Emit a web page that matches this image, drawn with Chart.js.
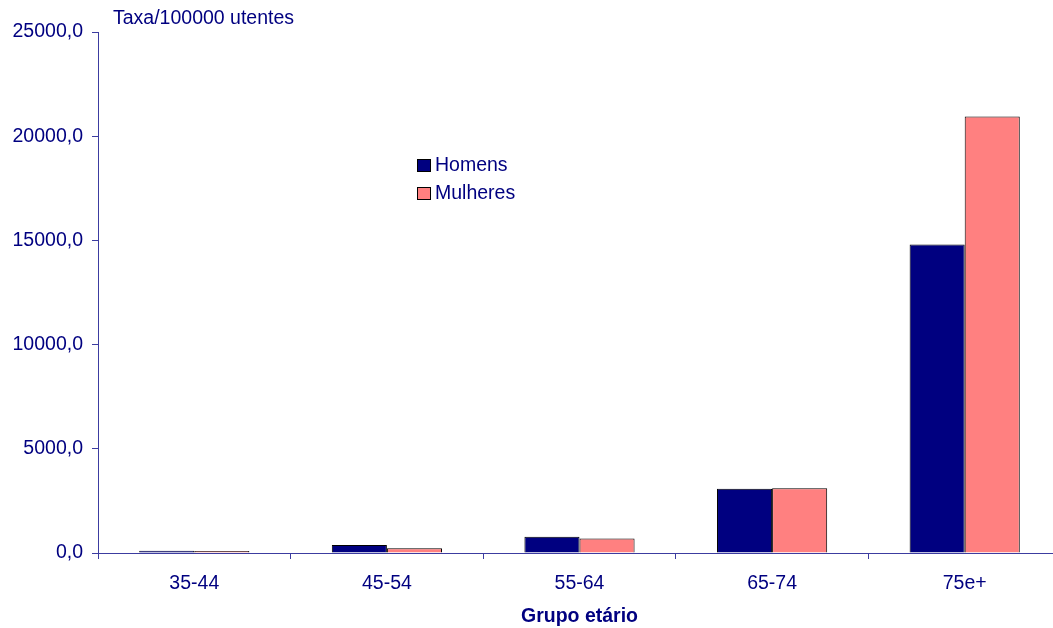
<!DOCTYPE html>
<html>
<head>
<meta charset="utf-8">
<script src="https://cdn.jsdelivr.net/npm/chart.js@4/dist/chart.umd.min.js"></script>
<style>
  html, body { margin: 0; padding: 0; background: #ffffff; overflow: hidden; }
  #wrap { width: 1061px; height: 628px; }
</style>
</head>
<body>
<div id="wrap"><canvas id="c" width="1061" height="628"></canvas></div>
<script>
// Age groups and rates per 100000 users
const categories = ['35-44', '45-54', '55-64', '65-74', '75e+'];
const homens = [110, 380, 780, 3080, 14800];
const mulheres = [100, 225, 700, 3110, 20950];
const seriesNames = ['Homens', 'Mulheres'];
const yTicks = [0, 5000, 10000, 15000, 20000, 25000];

const NAVY = '#000080';
const PINK = '#FF8080';
const AXIS = '#3c3ca0';
const FONT = 'Liberation Sans, Arial, sans-serif';
const FS = 19.5;

const fmt = v => v.toFixed(1).replace('.', ',');

// Unit caption and legend drawn at fixed spots over the plot
const overlay = {
  id: 'overlay',
  afterDraw(chart) {
    const ctx = chart.ctx;
    ctx.save();
    ctx.fillStyle = NAVY;
    ctx.font = FS + 'px ' + FONT;
    ctx.textBaseline = 'middle';
    ctx.textAlign = 'left';
    ctx.fillText('Taxa/100000 utentes', 113, 19);

    const colors = [NAVY, PINK];
    chart.data.datasets.forEach((ds, i) => {
      const y = 159 + i * 28;
      ctx.fillStyle = colors[i];
      ctx.fillRect(417, y, 14, 13);
      ctx.strokeStyle = '#000000';
      ctx.lineWidth = 1;
      ctx.strokeRect(417.5, y + 0.5, 13, 12);
      ctx.fillStyle = NAVY;
      ctx.fillText(ds.label, 435, y + 7);
    });
    ctx.restore();
  }
};

new Chart(document.getElementById('c'), {
  type: 'bar',
  data: {
    labels: categories,
    datasets: [
      { label: seriesNames[0], data: homens, backgroundColor: NAVY, borderColor: '#000000', borderWidth: 1 },
      { label: seriesNames[1], data: mulheres, backgroundColor: PINK, borderColor: '#000000', borderWidth: 1 }
    ]
  },
  options: {
    responsive: false,
    animation: false,
    layout: { padding: { top: 32, right: 0, left: 0, bottom: 0 } },
    datasets: { bar: { categoryPercentage: 0.572, barPercentage: 1.0 } },
    plugins: { legend: { display: false }, tooltip: { enabled: false } },
    scales: {
      x: {
        grid: { display: true, drawOnChartArea: false, drawTicks: true, tickLength: 6, color: AXIS, offset: true },
        border: { display: true, color: AXIS, width: 1 },
        ticks: { color: NAVY, font: { family: FONT, size: FS }, padding: 13, maxRotation: 0 },
        title: { display: true, text: 'Grupo etário', color: NAVY, font: { family: FONT, size: FS, weight: 'bold' }, padding: { top: 14, bottom: 0 } },
        afterFit(axis) { axis.height = 75; }
      },
      y: {
        min: 0,
        max: 25000,
        afterBuildTicks(axis) { axis.ticks = yTicks.map(v => ({ value: v })); },
        grid: { display: true, drawOnChartArea: false, drawTicks: true, tickLength: 6, color: AXIS },
        border: { display: true, color: AXIS, width: 1 },
        ticks: { color: NAVY, font: { family: FONT, size: FS }, padding: 9, callback: v => fmt(v) },
        afterFit(axis) { axis.width = 98; }
      }
    }
  },
  plugins: [overlay]
});
</script>
</body>
</html>
